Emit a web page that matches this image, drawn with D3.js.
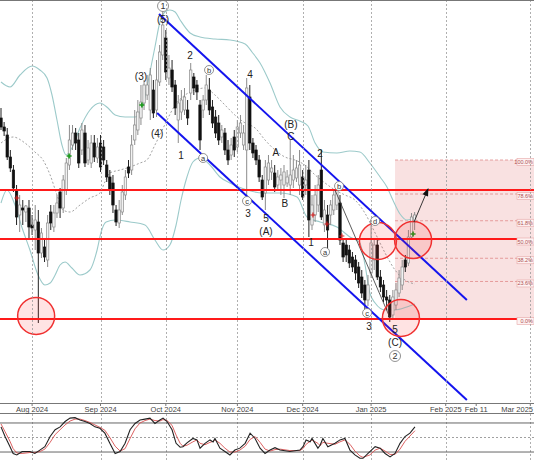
<!DOCTYPE html>
<html><head><meta charset="utf-8">
<script src="https://cdn.jsdelivr.net/npm/d3@7"></script>
<style>body{margin:0;background:#fff}svg{display:block}</style>
</head><body>
<script>
// ---------- DATA ----------
const opens  = [151,146.5,142.5,131.5,125,115,102.5,106,104,106,97.5,95,99,83.5,86.5,80,104,96.5,103.5,114,106,115,127.5,137.5,143.5,140,135,143.5,130,128.5,138.5,131,138.5,136.5,127.5,121.5,118.5,105,98.5,104,112.5,126.5,125,140,145,151,158.5,162.5,155,165,155,169,182.5,191,171,175,167.5,150,154,155,155,163.5,171.5,167.5,157.5,155,160,165,156.5,151.5,148.5,141.5,143.5,135,132.5,141.5,136.5,143.5,137.5,135,161.5,138.5,135,130,120,113.5,120,124,123.5,117.5,120,117.5,118.5,117.5,120,121,117.5,121.5,117.5,125,97.5,102.5,107.5,125,97.5,102.5,102.5,105,107.5,108.5,88.5,87.5,85,81.5,80,76.5,71.5,67.5,60,73.5,80,87.5,71.5,67.5,61.5,60,52.5,57.5,63.5,67.5,80,78.5,91.5,99];
const highs  = [156,149,146,135,127.5,117.5,112.5,110,107.5,110,102.5,107.5,105,96,90,102.5,107.5,107.5,112.5,116,122.5,131,147.5,147.5,146,143.5,148.5,147.5,140,142.5,142.5,141,142.5,140,130,125,122.5,107.5,110,117.5,125,130,142.5,155,160,167.5,170,172.5,176,170,180,187.5,205,195,182.5,180,170,162.5,165,166,160,178.5,173.5,170,160,162.5,172.5,171,160,155,152.5,147.5,146,140,141,145,150,152.5,147.5,171,167.5,141,137.5,132.5,122.5,130,132.5,130,127.5,125,126,127.5,125,140,132.5,130,135,125,127.5,130,112.5,117.5,122.5,135,110,107.5,110,115,117.5,112.5,91,90,87.5,84,82.5,79,75,70,72.5,100,90,90,75,70,65,62.5,65,68.5,75,80,82.5,95,103.5,104];
const lows   = [145,142,130,124,114,97.5,94,97.5,99,90,92.5,85,48.5,81,79,76.5,95,94,101,101,103.5,112.5,125,135,135,126,132.5,126.5,127.5,126,129,128.5,124,127.5,119,112.5,103.5,97,96,102.5,110,121,122.5,137.5,142.5,147.5,155,160,150,151,151.5,167,180,170,167.5,164,152.5,138.5,150,152.5,147.5,160,162.5,160,135,151,157.5,152.5,146,141,137.5,138.5,132.5,127.5,130,131.5,134,141,135,111,135,131,127.5,119,110,105,117.5,120,114,115,112.5,111,116.5,112.5,116,119,112.5,110,112.5,91.5,95,99,104,100,94,85,97.5,102.5,105,87.5,79,79,76,74,70,66,61,55,57,71,75,70,64,59,55,49,50,55,61.5,65,74,77,90,95];
const closes = [146.5,144.5,131.5,126,116,101.5,107.5,105,107,96.5,96,100,83.5,93.5,81.5,98.5,98.5,103.5,108.5,106,120,128.5,140,143.5,138.5,128.5,145,128.5,136,138.5,131.5,136.5,126.5,130,121.5,115,107.5,99,105,114,121.5,123.5,137.5,147.5,154,159,167.5,167.5,172.5,153.5,170,184,197.5,174,176,166.5,156,158.5,160,161.5,151,175,166,164,140,160,167.5,155,148.5,143.5,140,145,135,130,137.5,135,146.5,148.5,143.5,166,138.5,133.5,130,121.5,111.5,126.5,128.5,126,116.5,121.5,122.5,124,121.5,122.5,125,126,127.5,111.5,120,100,107.5,112.5,117.5,101.5,105,95,107.5,112.5,115,90,81.5,82.5,78.5,76.5,73.5,68.5,63.5,60,67.5,88.5,87.5,71.5,66.5,61.5,60,51.5,61.5,65,71,76.5,76.5,91.5,101.5,102.5];

// Bollinger bands: [bar index, price]
const bbUpper = [[0,169],[2.9,166.5],[6.1,172.5],[10,177],[12.5,175],[14.8,171],[16.4,162.5],[18,150],[19.6,137.5],[20.9,132.5],[22.8,136],[25.4,146],[28.6,155],[31.8,158.5],[34.4,156],[36.7,152.5],[39.9,151.5],[43.1,151.5],[44.7,154],[46.3,161.5],[47.9,174],[49.5,186.5],[51.1,199],[52.7,204],[54.3,205],[56,204],[57.6,200],[60.8,193.5],[64,191.5],[68.8,190.5],[73.6,190],[78.5,188],[80.7,184],[83.3,178.5],[86.5,168.5],[89.7,156.5],[92.9,151.5],[96.1,149.5],[98.7,147],[101,138.5],[103.5,134],[108,133.5],[112.2,134.5],[115.4,134],[118.6,128.5],[121.9,121.5],[124.1,116.5],[126,110],[128.3,103],[130.5,100],[133.1,101]];
const bbMiddle = [[0,138.5],[3.9,141.5],[7.7,138.5],[10.9,134],[13.5,130],[15.8,122.5],[18,112.5],[19.9,105],[22.2,104],[25.4,107.5],[28.6,111],[31.8,113.5],[33.4,119],[35,123.5],[38.3,125],[41.5,126.5],[44.7,128.5],[46.9,130],[49.5,137.5],[51.1,142.5],[53.4,150],[56,157.5],[59.2,162.5],[62.4,165],[65.6,166],[68.8,162.5],[72,157.5],[75.2,152.5],[78.5,148.5],[81.7,146],[84.9,140],[88.1,135],[91.3,131.5],[94.5,130],[97.7,127.5],[101,122.5],[104.2,118.5],[107.4,115],[110.6,112.5],[113.8,110],[117,103.5],[120.3,93.5],[123.5,83.5],[126.7,75],[129.9,70],[133.1,68]];
const bbLower = [[0,108.5],[1.9,115],[4.5,107.5],[6.8,96],[9.3,85],[11.9,72.5],[14.1,67.5],[15.8,68.5],[17.4,72.5],[19,77.5],[20.6,79],[22.8,76],[25.4,72.5],[28.6,75],[30.9,85],[32.2,94],[33.8,99],[36.7,100],[41.5,99],[46.3,97.5],[49.5,90],[52.1,85],[54.3,87.5],[56.3,97.5],[57.9,110],[59.8,121.5],[61.7,129],[64,131],[67.2,127.5],[70.4,121.5],[73.6,118.5],[79.1,115],[84.2,113.5],[89.7,113.5],[95.2,111.5],[98.4,101.5],[102.6,99],[108,96.5],[112.2,91.5],[115.4,88.5],[117,78],[118.6,63.5],[120.3,58.5],[123.5,55],[126.7,55],[130.5,56.5],[133.1,58]];

// Stochastic oscillator (%K black, %D red)
const stochIdx = [0,1.3,2.9,3.9,5.1,6.8,9.3,10.9,12.5,14.1,15.8,17.4,19,20.6,22.2,23.8,25.4,27,28.6,30.2,31.8,33.4,35,36.7,38.3,39.9,41.5,43.1,44.7,46.3,47.9,49.5,51.1,52.1,53.4,55,56.3,57.6,58.5,59.8,61.7,63,64,65.6,67.2,68.2,68.8,70.4,72,73.6,75.2,76.8,78.5,80.1,81.7,83.3,84.9,86.5,88.1,89.7,92.9,96.1,97.1,98.1,99.4,100,101.9,102.6,103.5,105.1,107.4,109,110.6,112.2,113.8,115.4,116.4,118.6,120.3,121.9,123.5,125.1,126.7,128.3,129.9,131.5,133.1];
const stochK = [72,52,31,17,14,21,21,17,24,31,52,66,72,83,90,91,86,83,79,72,69,59,38,17,21,38,66,79,86,88,90,79,86,90,83,66,38,30,31,39,48,45,28,38,45,41,48,28,21,14,24,28,38,59,48,28,17,24,29,24,21,24,31,45,41,48,28,34,48,31,38,45,48,24,14,7,7,21,31,28,17,10,17,38,52,59,72];
const stochD = [78,62,42,27,18,17,19,19,21,26,40,56,66,76,84,88,88,85,81,76,71,65,50,32,22,27,48,68,80,85,88,85,84,87,85,75,55,38,32,34,41,45,38,35,40,42,45,38,28,20,20,24,32,46,52,40,26,22,25,26,23,23,27,36,42,45,38,33,40,38,36,41,45,36,22,12,9,14,24,28,22,15,15,26,42,53,64];
const stochLevels = [80, 50, 20];

// Date axis (bar index of each label)
const dateTicks = [
  {i:10, label:"Aug 2024", grid:true},{i:32, label:"Sep 2024", grid:true},
  {i:53, label:"Oct 2024", grid:true},{i:76, label:"Nov 2024", grid:true},
  {i:97, label:"Dec 2024", grid:true},{i:119, label:"Jan 2025", grid:true},
  {i:143, label:"Feb 2025", grid:true},{i:152.8, label:"Feb 11", grid:false},
  {i:170.2, label:"Mar 2025", grid:true}];

// Horizontal support / resistance levels
const levels = [115, 90.5, 50.5];
// Fibonacci retracement (low, high, start bar)
const fibLow = 50.5, fibHigh = 130, fibStart = 126.7;
const fibRatios = [1.0, 0.786, 0.618, 0.5, 0.382, 0.236, 0.0];
const fibLabels = ["100.0%","78.6%","61.8%","50.0%","38.2%","23.6%","0.0%"];

// Channel lines
const channelUpper = [[50.8,203],[149.8,60]];
const channelLower = [[50.2,153.5],[149.8,10]];
// Thin trend lines
const thinLines = [[[107.4,115],[125.1,51]]];
// Arrow projection
const arrowPts = [[132.8,99],[137.3,115.5]];
// Highlight circles [bar, price]
const circles = [[11.3,52],[121.2,89.5],[132.5,90],[128.6,51]];
// Fractal markers
const greenMarks = [[21.9,132],[45.3,157.5],[132.5,93]];
const redMarks = [[5.1,111],[100.3,102.5],[104.8,98],[109.6,92]];
// Wave labels [bar, price, text, circled]
const waveLabels = [
  [52.1,207,"1",true],[52.1,200.5,"(5)",false],[45,172,"(3)",false],[50.2,143.5,"(4)",false],
  [57.9,132.5,"1",false],[60.8,182.5,"2",false],[65,131,"a",true],[66.9,175,"b",true],
  [80.1,173,"4",false],[79.1,109.5,"c",true],[79.4,103.5,"3",false],[85.2,101,"5",false],
  [85.2,94.5,"(A)",false],[88.4,134,"A",false],[91.3,108.5,"B",false],[93.2,148,"(B)",false],
  [93.2,142,"C",false],[102.6,133.5,"2",false],[108.7,117,"b",true],[99.7,89,"1",false],
  [104.2,84,"a",true],[120.3,99.5,"d",true],[117.7,53.5,"c",true],[118.3,47,"3",false],
  [126.7,45.5,"5",false],[126.7,39,"(C)",false],[126.7,32,"2",true]];

// ---------- DRAW ----------
const W = 534, H = 462;
const svg = d3.select("body").append("svg").attr("width", W).attr("height", H)
  .style("font-family", "'Liberation Sans', Arial, sans-serif");

const x = d3.scaleLinear().domain([0, 171]).range([1, 1 + 171 * 3.11]);
const y = d3.scaleLinear().domain([8.5, 210]).range([403, 0]);
const oy = d3.scaleLinear().domain([0, 100]).range([461.7, 413.3]);

const main = svg.append("g");
main.append("defs").append("clipPath").attr("id","mc").append("rect").attr("x",0).attr("y",0).attr("width",W).attr("height",403);
const plot = main.append("g").attr("clip-path","url(#mc)");

// fib box
const fibY = r => y(fibLow + r * (fibHigh - fibLow));
plot.append("rect").attr("x", x(fibStart)).attr("y", fibY(1)).attr("width", W - x(fibStart))
  .attr("height", fibY(0) - fibY(1)).attr("fill", "#f8dcdc").attr("opacity", 0.85);

// vertical grid
dateTicks.filter(d => d.grid).forEach(d => {
  svg.append("line").attr("x1", Math.round(x(d.i)) + 0.5).attr("x2", Math.round(x(d.i)) + 0.5)
    .attr("y1", 0).attr("y2", 403).attr("stroke", "#9a9a9a").attr("stroke-dasharray", "2,2").attr("stroke-width", 0.8);
  svg.append("line").attr("x1", Math.round(x(d.i)) + 0.5).attr("x2", Math.round(x(d.i)) + 0.5)
    .attr("y1", 414).attr("y2", H).attr("stroke", "#9a9a9a").attr("stroke-dasharray", "2,2").attr("stroke-width", 0.8);
});

// fib dashed lines
fibRatios.forEach(r => {
  plot.append("line").attr("x1", x(fibStart)).attr("x2", W).attr("y1", fibY(r)).attr("y2", fibY(r))
    .attr("stroke", "#e08a8a").attr("stroke-dasharray", "3,2").attr("stroke-width", 0.8);
});

// Bollinger bands
const ln = d3.line().x(d => x(d[0])).y(d => y(d[1])).curve(d3.curveMonotoneX);
plot.append("path").attr("d", ln(bbUpper)).attr("fill","none").attr("stroke","#9ccaca").attr("stroke-width",1.1);
plot.append("path").attr("d", ln(bbLower)).attr("fill","none").attr("stroke","#9ccaca").attr("stroke-width",1.1);
plot.append("path").attr("d", ln(bbMiddle)).attr("fill","none").attr("stroke","#8a8a8a").attr("stroke-width",0.8).attr("stroke-dasharray","2,2");

// candles
const candles = opens.map((o, i) => ({i, o, h: highs[i], l: lows[i], c: closes[i]}));
const cg = plot.append("g");
candles.forEach(d => {
  const up = d.c >= d.o;
  cg.append("line").attr("x1", x(d.i)).attr("x2", x(d.i)).attr("y1", y(d.h)).attr("y2", y(d.l))
    .attr("stroke", up ? "#8c8c8c" : "#222").attr("stroke-width", 1);
  const top = y(Math.max(d.o, d.c)), bot = y(Math.min(d.o, d.c));
  cg.append("rect").attr("x", x(d.i) - 1.2).attr("width", 2.4).attr("y", top).attr("height", Math.max(1, bot - top))
    .attr("fill", up ? "#f2f2f2" : "#111").attr("stroke", up ? "#8c8c8c" : "#111").attr("stroke-width", 0.7);
});

// markers
greenMarks.forEach(m => {
  plot.append("path").attr("d", `M${x(m[0])-2.5},${y(m[1])}h5M${x(m[0])},${y(m[1])-2.5}v5`).attr("stroke","#1a9a1a").attr("stroke-width",1.6);
});
redMarks.forEach(m => {
  plot.append("path").attr("d", `M${x(m[0])-2.5},${y(m[1])}h5M${x(m[0])},${y(m[1])-2.5}v5`).attr("stroke","#d42020").attr("stroke-width",1.2);
});

// horizontal red levels
levels.forEach(p => {
  plot.append("line").attr("x1", 0).attr("x2", W).attr("y1", y(p)).attr("y2", y(p)).attr("stroke", "#ff1a1a").attr("stroke-width", 2.2);
});

// channel lines
[channelUpper, channelLower].forEach(c => {
  plot.append("line").attr("x1", x(c[0][0])).attr("y1", y(c[0][1])).attr("x2", x(c[1][0])).attr("y2", y(c[1][1]))
    .attr("stroke", "#1414ee").attr("stroke-width", 2);
});

// thin lines
thinLines.forEach(c => {
  plot.append("line").attr("x1", x(c[0][0])).attr("y1", y(c[0][1])).attr("x2", x(c[1][0])).attr("y2", y(c[1][1]))
    .attr("stroke", "#333").attr("stroke-width", 0.8);
});

// circles
circles.forEach(c => {
  plot.append("circle").attr("cx", x(c[0])).attr("cy", y(c[1])).attr("r", 18.5)
    .attr("fill", "rgba(255,40,40,0.13)").attr("stroke", "#f03030").attr("stroke-width", 1.5);
});

// arrow
{
  const [a, b] = arrowPts;
  const x1 = x(a[0]), y1 = y(a[1]), x2 = x(b[0]), y2 = y(b[1]);
  plot.append("line").attr("x1", x1).attr("y1", y1).attr("x2", x2).attr("y2", y2).attr("stroke", "#222").attr("stroke-width", 0.9);
  const ang = Math.atan2(y2 - y1, x2 - x1);
  const L = 7, Wd = 3;
  const bx = x2 - L * Math.cos(ang), by = y2 - L * Math.sin(ang);
  const px = -Math.sin(ang) * Wd, py = Math.cos(ang) * Wd;
  plot.append("path").attr("d", `M${x2 + Math.cos(ang)*1},${y2 + Math.sin(ang)*1}L${bx+px},${by+py}L${bx-px},${by-py}Z`).attr("fill", "#111");
}

// fib labels
fibRatios.forEach((r, k) => {
  const yy = fibY(r) + 2;
  plot.append("rect").attr("x", 517).attr("y", yy - 3.5).attr("width", 17).attr("height", 7)
    .attr("fill", "#fdf2f2").attr("stroke", "#e6a6a6").attr("stroke-width", 0.6);
  plot.append("text").attr("x", 533).attr("y", yy + 2).attr("text-anchor", "end")
    .attr("font-size", 5.5).attr("fill", "#b05050").text(fibLabels[k]);
});

// wave labels
waveLabels.forEach(w => {
  const cx = x(w[0]), cy = y(w[1]);
  if (w[3]) {
    const big = /\d/.test(w[2]);
    plot.append("circle").attr("cx", cx).attr("cy", cy).attr("r", big ? 5.5 : 4.5)
      .attr("fill", "#fff").attr("stroke", "#777").attr("stroke-width", 0.8);
    plot.append("text").attr("x", cx).attr("y", cy + (big ? 3.2 : 2.5)).attr("text-anchor", "middle")
      .attr("font-size", big ? 9 : 7.5).attr("fill", "#333").text(w[2]);
  } else {
    plot.append("text").attr("x", cx).attr("y", cy + 3.6).attr("text-anchor", "middle")
      .attr("font-size", 10).attr("fill", "#222").text(w[2]);
  }
});

// frame lines
svg.append("line").attr("x1",0).attr("x2",W).attr("y1",0.5).attr("y2",0.5).attr("stroke","#777");
svg.append("line").attr("x1",0).attr("x2",W).attr("y1",403.5).attr("y2",403.5).attr("stroke","#777");
svg.append("line").attr("x1",0).attr("x2",W).attr("y1",413.5).attr("y2",413.5).attr("stroke","#777");

// date labels (last one kept inside the right edge)
dateTicks.forEach((d, k) => {
  svg.append("line").attr("x1", x(d.i)).attr("x2", x(d.i)).attr("y1", 403).attr("y2", 406).attr("stroke", "#777");
  const last = k === dateTicks.length - 1;
  svg.append("text").attr("x", last ? W - 1 : x(d.i)).attr("y", 411.5).attr("text-anchor", last ? "end" : "middle")
    .attr("font-size", 7.5).attr("fill", "#444").text(d.label);
});

// oscillator levels
stochLevels.forEach(v => {
  svg.append("line").attr("x1",0).attr("x2",W).attr("y1",oy(v)).attr("y2",oy(v))
    .attr("stroke", v === 50 ? "#888" : "#555").attr("stroke-width", v === 50 ? 0.8 : 0.9)
    .attr("stroke-dasharray", v === 50 ? "2,2" : null);
});
const sl = d3.line().x((d, k) => x(stochIdx[k])).y(d => oy(d));
svg.append("path").attr("d", sl(stochD)).attr("fill","none").attr("stroke","#d85050").attr("stroke-width",0.9);
svg.append("path").attr("d", sl(stochK)).attr("fill","none").attr("stroke","#222").attr("stroke-width",1.1);
</script>
</body></html>
